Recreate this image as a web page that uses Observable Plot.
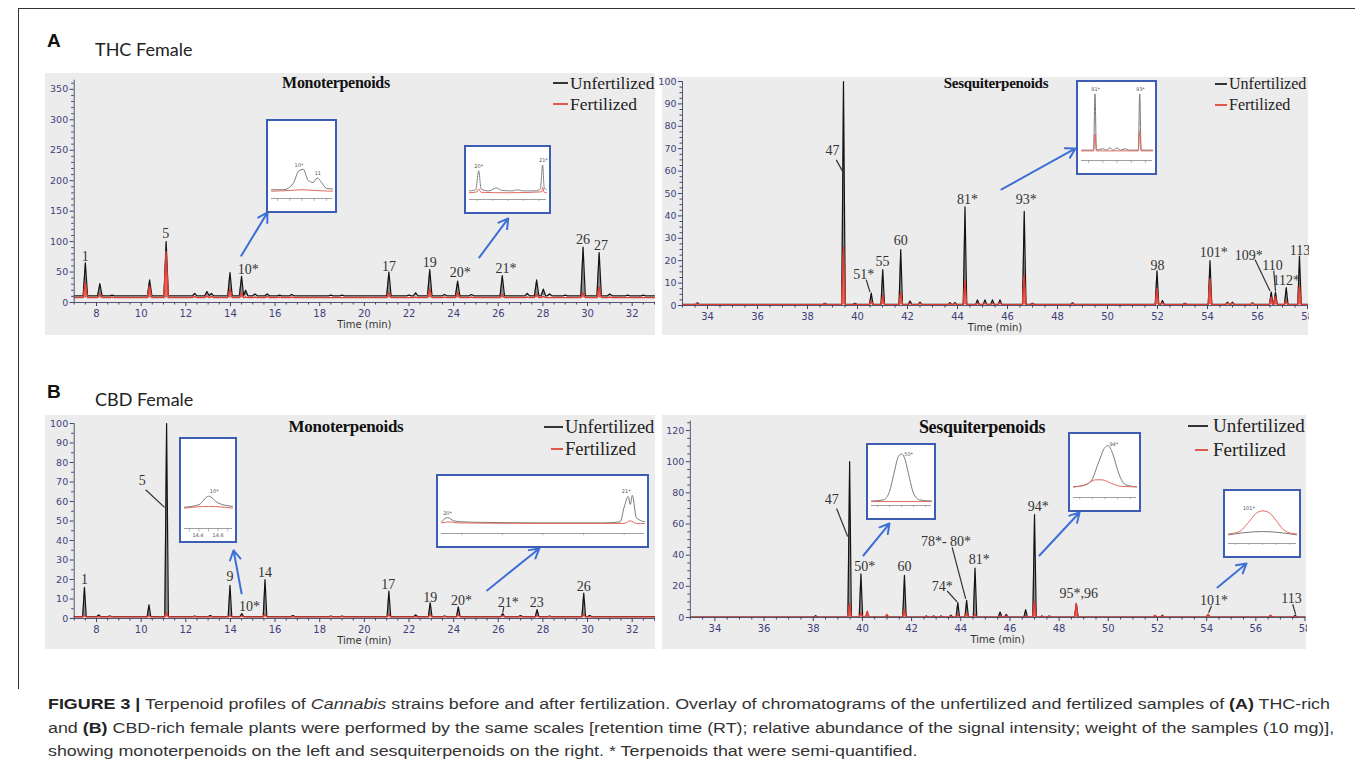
<!DOCTYPE html>
<html><head><meta charset="utf-8">
<script src="https://cdn.jsdelivr.net/npm/d3@7"></script>
<script src="https://cdn.jsdelivr.net/npm/@observablehq/plot@0.6"></script>
<style>
html,body{margin:0;padding:0;background:#fff;}
#fig{position:relative;width:1355px;height:767px;overflow:hidden;background:#fff;}
.abs{position:absolute;}
.bg{position:absolute;background:#ececec;}
.ttl{position:absolute;font-family:"Liberation Serif",serif;font-weight:bold;color:#111;white-space:nowrap;transform:translate(-50%,-50%);letter-spacing:-0.3px;}
.leg{position:absolute;font-family:"Liberation Serif",serif;color:#222;white-space:nowrap;transform:translateY(-50%);}
.dash{position:absolute;height:1.2px;}
.inset{position:absolute;border:2px solid #3d5cb3;background:#fff;box-sizing:border-box;}
.cap{position:absolute;left:48px;font-family:"Liberation Sans",Arial,sans-serif;font-size:15.5px;color:#333;white-space:nowrap;transform-origin:0 50%;}
</style></head>
<body><div id="fig"></div>
<script>
// ---------------- DATA ----------------
// Panel A, Monoterpenoids (THC female): retention time (min), unfertilized, fertilized
const aMonoRT   = [7.50, 8.15, 8.70, 10.38, 11.12, 12.40, 12.95, 13.15, 13.98, 14.50, 14.68, 15.10, 15.65, 16.20, 16.75, 18.50, 19.00, 21.10, 22.00, 22.30, 22.93, 23.60, 24.18, 24.80, 26.18, 27.30, 27.72, 28.02, 28.30, 29.00, 29.80, 30.52, 31.00, 31.80, 32.50];
const aMonoUnf  = [65, 31, 12, 37, 100, 15, 18, 15, 49, 43, 20, 14, 14, 12, 13, 12, 12, 50, 12, 16, 54, 13, 35, 13, 44, 15, 37, 22, 14, 12, 91, 82, 14, 12, 12];
const aMonoFert = [33, 14, 9, 27, 84, 10, 11, 10, 22, 16, 9, 9, 10, 9, 9, 8, 8, 16, 8, 9, 22, 9, 16, 9, 13, 9, 14, 10, 8, 8, 16, 26, 9, 8, 8];
const aMonoLabels = ["1", "5", "10*", "17", "19", "20*", "21*", "26", "27"];
const aMonoLabelRT = [7.50, 11.10, 14.80, 21.10, 22.93, 24.30, 26.35, 29.80, 30.60];
const aMonoLabelY  = [76, 114, 54, 59, 65, 50, 55, 103, 93];

// Panel A, Sesquiterpenoids (THC female)
const aSesqRT   = [33.6, 38.7, 39.44, 39.9, 40.55, 41.01, 41.73, 42.1, 42.5, 43.7, 43.9, 44.30, 44.8, 45.1, 45.4, 45.7, 46.67, 47.0, 48.6, 51.98, 52.2, 53.1, 54.10, 54.8, 55.0, 55.8, 56.55, 56.72, 57.15, 57.68];
const aSesqUnf  = [1.2, 1.0, 100, 1.0, 5.5, 16, 25, 2, 1.5, 1.3, 1.3, 44, 2.5, 2.5, 2.5, 2.5, 42, 1, 1.2, 15.5, 2.2, 1, 20, 1.5, 1.5, 1.2, 6, 6, 8, 22];
const aSesqFert = [0.8, 0.7, 26, 0.6, 2, 4.5, 6, 1, 1, 0.8, 0.8, 11, 1, 1, 1, 1.2, 13.5, 0.7, 0.8, 7.5, 1.2, 0.7, 12, 1, 1, 1, 3.7, 4, 2, 9];
const aSesqLabels  = ["47", "51*", "55", "60", "81*", "93*", "98", "101*", "109*", "110", "112*", "113"];
const aSesqLabelRT = [39.0, 40.25, 41.0, 41.73, 44.4, 46.75, 52.0, 54.25, 55.65, 56.6, 57.15, 57.7];
const aSesqLabelY  = [69, 14, 19.5, 29, 47.5, 47.5, 18, 23.5, 22.5, 18, 11, 24.5];

// Panel B, Monoterpenoids (CBD female)
const bMonoRT   = [7.46, 8.10, 8.60, 10.35, 11.14, 12.40, 13.10, 13.98, 14.51, 15.55, 16.80, 18.50, 19.00, 21.10, 22.30, 22.95, 23.60, 24.21, 26.20, 27.00, 27.74, 28.30, 29.83, 30.10];
const bMonoUnf  = [16, 1.8, 1.3, 7, 100, 1.2, 1.5, 17, 2.5, 20, 1.5, 1.2, 1.2, 14, 1.8, 8, 1.3, 6, 2.5, 1.5, 4.6, 1.2, 13, 1.5];
const bMonoFert = [1.5, 1, 1, 1.5, 3, 1, 1, 1.5, 1.3, 2, 1, 1, 1, 2, 1, 2, 1, 2, 1.5, 1, 1.5, 1, 2, 1];
const bMonoLabels  = ["1", "5", "9", "10*", "14", "17", "19", "20*", "21*", "23", "26"];
const bMonoLabelRT = [7.46, 10.05, 13.98, 14.85, 15.55, 21.07, 22.95, 24.35, 26.45, 27.72, 29.83];
const bMonoLabelY  = [20, 71, 21.5, 6, 23.5, 17.5, 11, 9.3, 8.4, 8.4, 16.5];

// Panel B, Sesquiterpenoids (CBD female)
const bSesqRT   = [38.1, 39.48, 39.94, 40.2, 41.0, 41.71, 42.6, 42.9, 43.2, 43.6, 43.88, 44.24, 44.58, 45.6, 45.85, 46.64, 47.00, 47.3, 47.6, 48.7, 51.9, 52.2, 54.06, 56.6, 57.6];
const bSesqUnf  = [1.2, 100, 28, 2, 1, 27, 1, 1, 1, 1.5, 9.6, 11, 31.7, 3.5, 2, 5, 66, 1, 1, 9, 1, 1.5, 2, 1.2, 1.5];
const bSesqFert = [0.5, 9, 3, 4, 2, 5, 0.7, 0.7, 0.7, 0.8, 2, 3, 2, 1, 1, 1, 10.7, 0.7, 0.7, 9, 1.5, 1, 2, 1.5, 0.8];
const bSesqLabels  = ["47", "50*", "60", "78*- 80*", "74*", "81*", "94*", "95*,96", "101*", "113"];
const bSesqLabelRT = [38.75, 40.1, 41.71, 43.4, 43.25, 44.75, 47.15, 48.8, 54.3, 57.45];
const bSesqLabelY  = [75.5, 33, 33, 49, 20, 37, 71, 15.5, 11, 12.5];

// Tick values
const monoXTicks = [8, 10, 12, 14, 16, 18, 20, 22, 24, 26, 28, 30, 32];
const sesqXTicks = [34, 36, 38, 40, 42, 44, 46, 48, 50, 52, 54, 56, 58];
const aMonoYTicks = [0, 50, 100, 150, 200, 250, 300, 350];
const aSesqYTicks = [0, 10, 20, 30, 40, 50, 60, 70, 80, 90, 100];
const bMonoYTicks = [0, 10, 20, 30, 40, 50, 60, 70, 80, 90, 100];
const bSesqYTicks = [0, 20, 40, 60, 80, 100, 120];

// Inset traces (relative units)
const insA1Gray = [[0,12],[20,12],[35,20],[45,38],[52,40],[60,25],[68,22],[75,28],[82,22],[90,14],[100,13]];
const insA1Red  = [[0,10],[30,11],[50,12],[70,11],[100,10]];
const insA2Gray = [[0,18],[8,20],[12,60],[15,22],[25,18],[35,24],[42,19],[55,18],[62,20],[70,18],[85,18],[92,22],[95,72],[97,25],[100,20]];
const insA2Red  = [[0,14],[10,16],[12,22],[15,15],[50,14],[94,16],[95,25],[97,15],[100,14]];
const insA3Gray = [[0,14],[17,14],[19,90],[21,14],[30,16],[35,14],[40,17],[45,14],[50,17],[55,14],[62,16],[66,14],[80,14],[82,90],[84,14],[100,14]];
const insA3Red  = [[0,13],[17,13],[19,36],[21,13],[80,13],[82,40],[84,13],[100,13]];
const insB1Gray = [[0,25],[30,28],[50,38],[70,30],[100,26]];
const insB1Red  = [[0,24],[50,26],[100,24]];
const insB2Gray = [[0,22],[3,30],[6,24],[10,22],[20,21],[50,20],[80,20],[88,22],[90,50],[92,70],[93,55],[94,72],[96,30],[100,22]];
const insB2Red  = [[0,20],[4,22],[8,20],[50,19],[90,19],[93,24],[96,19],[100,19]];
const insB3Gray = [[0,8],[20,10],[30,25],[38,60],[45,88],[50,92],[55,85],[62,55],[70,22],[80,10],[100,8]];
const insB3Red  = [[0,7],[100,7]];
const insB4Gray = [[0,18],[15,20],[28,28],[40,60],[50,85],[55,88],[62,75],[72,40],[82,22],[100,18]];
const insB4Red  = [[0,18],[20,22],[35,30],[45,30],[60,24],[75,19],[100,18]];
const insB5Gray = [[0,18],[20,22],[50,25],[80,22],[100,18]];
const insB5Red  = [[0,20],[15,24],[30,45],[40,62],[50,68],[60,64],[70,48],[80,30],[90,22],[100,20]];

// ---------------- HELPERS ----------------
const fig = document.getElementById("fig");
function add(html, cls, style) {
  const d = document.createElement("div");
  if (cls) d.className = cls;
  d.innerHTML = html;
  Object.assign(d.style, style || {});
  fig.appendChild(d);
  return d;
}
function trace(rts, hs, base, hw, x0, x1) {
  const pts = [{x: x0, y: base}];
  let lastEnd = x0;
  rts.forEach((rt, i) => {
    let s = rt - hw;
    if (s < lastEnd) { pts.pop(); s = (rt + (lastEnd - hw)) / 2; }
    pts.push({x: s, y: base}, {x: rt, y: hs[i]}, {x: rt + hw, y: base});
    lastEnd = rt + hw;
  });
  pts.push({x: x1, y: base});
  return pts;
}
const inkAxis = "#3f3f7a";

function panel(o) {
  const unf = trace(o.rt, o.unf, o.baseU, o.hw, o.xDom[0], o.xDom[1]);
  const fer = trace(o.rt, o.fert, o.baseF, o.hw, o.xDom[0], o.xDom[1]);
  const labs = o.labels.map((t, i) => ({t, x: o.lx[i], y: o.ly[i]}));
  const xMinor = d3.range(o.xDom[0], o.xDom[1] + 0.001, 0.5).filter(v => !o.xTicks.includes(v));
  const yMinor = d3.range(0, o.yDom[1] + 0.001, o.yMinorStep).filter(v => !o.yTicks.includes(v));
  const svg = Plot.plot({
    width: o.width, height: o.height,
    marginLeft: o.mL, marginRight: o.mR, marginTop: o.mT, marginBottom: o.mB,
    x: {domain: o.xDom}, y: {domain: o.yDom},
    style: {background: "transparent", fontFamily: "DejaVu Sans, sans-serif", fontSize: "9px", color: inkAxis, overflow: o.clip ? "hidden" : "visible"},
    marks: [
      Plot.areaY(unf, {x: "x", y1: o.baseU, y2: "y", fill: "#8e8e8e", curve: "linear"}),
      Plot.line(unf, {x: "x", y: "y", stroke: "#141414", strokeWidth: 1.2}),
      Plot.areaY(fer, {x: "x", y1: o.baseF, y2: "y", fill: "#e4675d", curve: "linear"}),
      Plot.line(fer, {x: "x", y: "y", stroke: "#e23b30", strokeWidth: 1.3}),
      Plot.ruleY([0], {stroke: "#555570", strokeWidth: 1}),
      Plot.ruleX([o.xDom[0]], {stroke: "#555570", strokeWidth: 1}),
      Plot.axisX(o.xTicks, {tickSize: 4, tickPadding: 3, tickFormat: d => String(d), fontSize: 10}),
      Plot.axisX(xMinor, {tickSize: 2.5, tickFormat: () => ""}),
      Plot.axisY(o.yTicks, {tickSize: 4, tickPadding: 2, fontSize: 9.5}),
      Plot.axisY(yMinor, {tickSize: 2.5, tickFormat: () => ""}),
      Plot.text(["Time (min)"], {frameAnchor: "bottom", dy: 25, fontSize: 10, fill: "#333", fontFamily: "DejaVu Sans, sans-serif"}),
      Plot.link(o.leaders, {x1: "x1", y1: "y1", x2: "x2", y2: "y2", stroke: "#333", strokeWidth: 1.2}),
      Plot.text(labs, {x: "x", y: "y", text: "t", fontFamily: "Liberation Serif, serif", fontSize: o.labelSize, fill: "#333"}),
      Plot.arrow(o.arrows, {x1: "x1", y1: "y1", x2: "x2", y2: "y2", stroke: "#3d6fd6", strokeWidth: 2, headLength: 8})
    ]
  });
  svg.style.position = "absolute";
  svg.style.left = o.left + "px";
  svg.style.top = o.top + "px";
  fig.appendChild(svg);
}

function inset(left, top, w, h, gray, red, texts, dashed) {
  const box = add("", "inset", {left: left + "px", top: top + "px", width: w + "px", height: h + "px"});
  const g = gray.map(([x, y]) => ({x, y}));
  const r = red.map(([x, y]) => ({x, y}));
  const t = texts.map(([s, x, y]) => ({s, x, y}));
  const svg = Plot.plot({
    width: w - 4, height: h - 4,
    marginLeft: 3, marginRight: 3, marginTop: 4, marginBottom: 13,
    x: {domain: [0, 100], axis: null}, y: {domain: [0, 100], axis: null},
    style: {background: "transparent", overflow: "hidden"},
    marks: [
      Plot.ruleY([0], {stroke: "#888", strokeWidth: 0.8}),
      Plot.ruleX([10, 30, 50, 70, 90], {y1: 0, y2: -4, stroke: "#888", strokeWidth: 0.6}),
      Plot.line(g, {x: "x", y: "y", stroke: "#7a7a7a", strokeWidth: 1, strokeDasharray: dashed ? "2,1" : null, curve: "monotone-x"}),
      Plot.line(r, {x: "x", y: "y", stroke: "#e06a60", strokeWidth: 1, curve: "monotone-x"}),
      Plot.text(t, {x: "x", y: "y", text: "s", fontSize: 5, fill: "#555", fontFamily: "DejaVu Sans"})
    ]
  });
  svg.style.display = "block";
  box.appendChild(svg);
}

// ---------------- FRAME & HEADINGS ----------------
add("", "abs", {left: "18px", top: "8px", width: "1400px", height: "680px", borderLeft: "1px solid #333", borderTop: "1px solid #333"});
add("A", "abs", {left: "47px", top: "30px", fontFamily: "Liberation Sans, Arial", fontWeight: "bold", fontSize: "19px", color: "#111"});
add("THC Female", "abs", {left: "95px", top: "38px", fontFamily: "Lato, sans-serif", fontSize: "18px", color: "#222"});
add("B", "abs", {left: "47px", top: "381px", fontFamily: "Liberation Sans, Arial", fontWeight: "bold", fontSize: "19px", color: "#111"});
add("CBD Female", "abs", {left: "95px", top: "388px", fontFamily: "Lato, sans-serif", fontSize: "18px", color: "#222"});

// panel backgrounds
add("", "bg", {left: "45px", top: "73px", width: "610px", height: "262px"});
add("", "bg", {left: "662px", top: "77px", width: "646px", height: "258px"});
add("", "bg", {left: "45px", top: "415px", width: "610px", height: "234px"});
add("", "bg", {left: "662px", top: "415px", width: "644px", height: "234px"});

// ---------------- PANELS ----------------
panel({left: 20, top: 73, width: 637, height: 262, mL: 53.7, mR: 3, mT: 6.7, mB: 33,
  xDom: [7, 33], yDom: [0, 365], xTicks: monoXTicks, yTicks: aMonoYTicks, yMinorStep: 10,
  rt: aMonoRT, unf: aMonoUnf, fert: aMonoFert, baseU: 11, baseF: 8, hw: 0.1,
  labels: aMonoLabels, lx: aMonoLabelRT, ly: aMonoLabelY, labelSize: 14,
  leaders: [],
  arrows: [{x1: 14.49, y1: 77, x2: 15.66, y2: 148}, {x1: 25.15, y1: 74, x2: 26.45, y2: 138}]});

panel({left: 640, top: 77, width: 669, height: 258, mL: 42, mR: 2, mT: 4, mB: 30, clip: true,
  xDom: [33, 58], yDom: [0, 100], xTicks: sesqXTicks, yTicks: aSesqYTicks, yMinorStep: 2.5,
  rt: aSesqRT, unf: aSesqUnf, fert: aSesqFert, baseU: 0.5, baseF: 0.4, hw: 0.07,
  labels: aSesqLabels, lx: aSesqLabelRT, ly: aSesqLabelY, labelSize: 14,
  leaders: [{x1: 39.15, y1: 65, x2: 39.4, y2: 60}, {x1: 40.35, y1: 11.5, x2: 40.5, y2: 6},
            {x1: 55.9, y1: 20.5, x2: 56.5, y2: 6.5}, {x1: 56.65, y1: 15.5, x2: 56.72, y2: 6.5}],
  arrows: [{x1: 45.76, y1: 51.8, x2: 48.72, y2: 70.1}]});

panel({left: 20, top: 415, width: 637, height: 234, mL: 53.7, mR: 3, mT: 8, mB: 31,
  xDom: [7, 33], yDom: [0, 100], xTicks: monoXTicks, yTicks: bMonoYTicks, yMinorStep: 5,
  rt: bMonoRT, unf: bMonoUnf, fert: bMonoFert, baseU: 1.0, baseF: 0.8, hw: 0.08,
  labels: bMonoLabels, lx: bMonoLabelRT, ly: bMonoLabelY, labelSize: 14,
  leaders: [{x1: 10.2, y1: 66, x2: 11.05, y2: 57}, {x1: 26.25, y1: 5.8, x2: 26.2, y2: 3}],
  arrows: [{x1: 14.5, y1: 12.8, x2: 14.14, y2: 34.9}, {x1: 25.5, y1: 14.4, x2: 27.84, y2: 35.9}]});

panel({left: 640, top: 415, width: 667, height: 234, mL: 49.8, mR: 2.5, mT: 5.7, mB: 32, clip: true,
  xDom: [33, 58], yDom: [0, 126], xTicks: sesqXTicks, yTicks: bSesqYTicks, yMinorStep: 5,
  rt: bSesqRT, unf: bSesqUnf, fert: bSesqFert, baseU: 0.3, baseF: 0.3, hw: 0.07,
  labels: bSesqLabels, lx: bSesqLabelRT, ly: bSesqLabelY, labelSize: 14,
  leaders: [{x1: 38.95, y1: 70, x2: 39.4, y2: 52}, {x1: 43.65, y1: 45, x2: 44.2, y2: 12},
            {x1: 43.45, y1: 17, x2: 43.85, y2: 10}, {x1: 54.2, y1: 7.5, x2: 54.08, y2: 3},
            {x1: 57.5, y1: 8.5, x2: 57.62, y2: 2}],
  arrows: [{x1: 40.04, y1: 39.8, x2: 41.1, y2: 60.3}, {x1: 47.2, y1: 39.8, x2: 48.83, y2: 67.4},
           {x1: 54.44, y1: 19.3, x2: 55.62, y2: 34.7}]});

// ---------------- TITLES & LEGENDS ----------------
function title(txt, cx, cy, size) { add(txt, "ttl", {left: cx + "px", top: cy + "px", fontSize: size + "px"}); }
function legend(x0, x1, xt, y, size, txt, color) {
  add("", "dash", {left: x0 + "px", top: (y - 0.6) + "px", width: (x1 - x0) + "px", background: color});
  add(txt, "leg", {left: xt + "px", top: y + "px", fontSize: size + "px"});
}
title("Monoterpenoids", 336, 83, 16);
title("Sesquiterpenoids", 996, 83, 15);
title("Monoterpenoids", 346, 427, 17);
title("Sesquiterpenoids", 982, 427, 18);
legend(553, 568, 570, 83, 17.5, "Unfertilized", "#333");
legend(553, 568, 570, 104, 17.5, "Fertilized", "#e2574c");
legend(1215, 1227, 1229, 84, 16, "Unfertilized", "#333");
legend(1215, 1227, 1229, 105, 16, "Fertilized", "#e2574c");
legend(544, 563, 565, 427, 18.5, "Unfertilized", "#333");
legend(551, 563, 565, 449, 18.5, "Fertilized", "#e2574c");
legend(1188, 1208, 1213, 426, 19, "Unfertilized", "#333");
legend(1195, 1208, 1213, 450, 19, "Fertilized", "#e2574c");

// ---------------- INSETS ----------------
inset(266, 119, 71, 94, insA1Gray, insA1Red, [["10*", 45, 46], ["11", 76, 34]], false);
inset(464, 145, 87, 69, insA2Gray, insA2Red, [["20*", 12, 70], ["21*", 96, 82]], true);
inset(1076, 80, 81, 95, insA3Gray, insA3Red, [["81*", 20, 96], ["93*", 83, 96]], false);
inset(179, 437, 58, 106, insB1Gray, insB1Red, [["10*", 62, 44], ["14.4", 28, -8], ["14.6", 70, -8]], false);
inset(436, 474, 213, 74, insB2Gray, insB2Red, [["20*", 3, 38], ["21*", 91, 80]], false);
inset(866, 443, 70, 77, insB3Gray, insB3Red, [["50*", 62, 92]], false);
inset(1068, 432, 73, 80, insB4Gray, insB4Red, [["94*", 64, 90]], false);
inset(1223, 489, 78, 69, insB5Gray, insB5Red, [["101*", 30, 74]], false);

// ---------------- CAPTION ----------------
const capLines = [
  '<b style="color:#222">FIGURE 3 |</b> Terpenoid profiles of <i>Cannabis</i> strains before and after fertilization. Overlay of chromatograms of the unfertilized and fertilized samples of <b style="color:#222">(A)</b> THC-rich',
  'and <b style="color:#222">(B)</b> CBD-rich female plants were performed by the same scales [retention time (RT); relative abundance of the signal intensity; weight of the samples (10 mg)],',
  'showing monoterpenoids on the left and sesquiterpenoids on the right. * Terpenoids that were semi-quantified.'
];
const capY = [695, 719, 742];
const capEls = capLines.map((l, i) => add(l, "cap", {top: capY[i] + "px"}));
const w0 = capEls[0].getBoundingClientRect().width;
const sx = 1282 / w0;
capEls.forEach(e => e.style.transform = `scaleX(${sx})`);
</script></body></html>
